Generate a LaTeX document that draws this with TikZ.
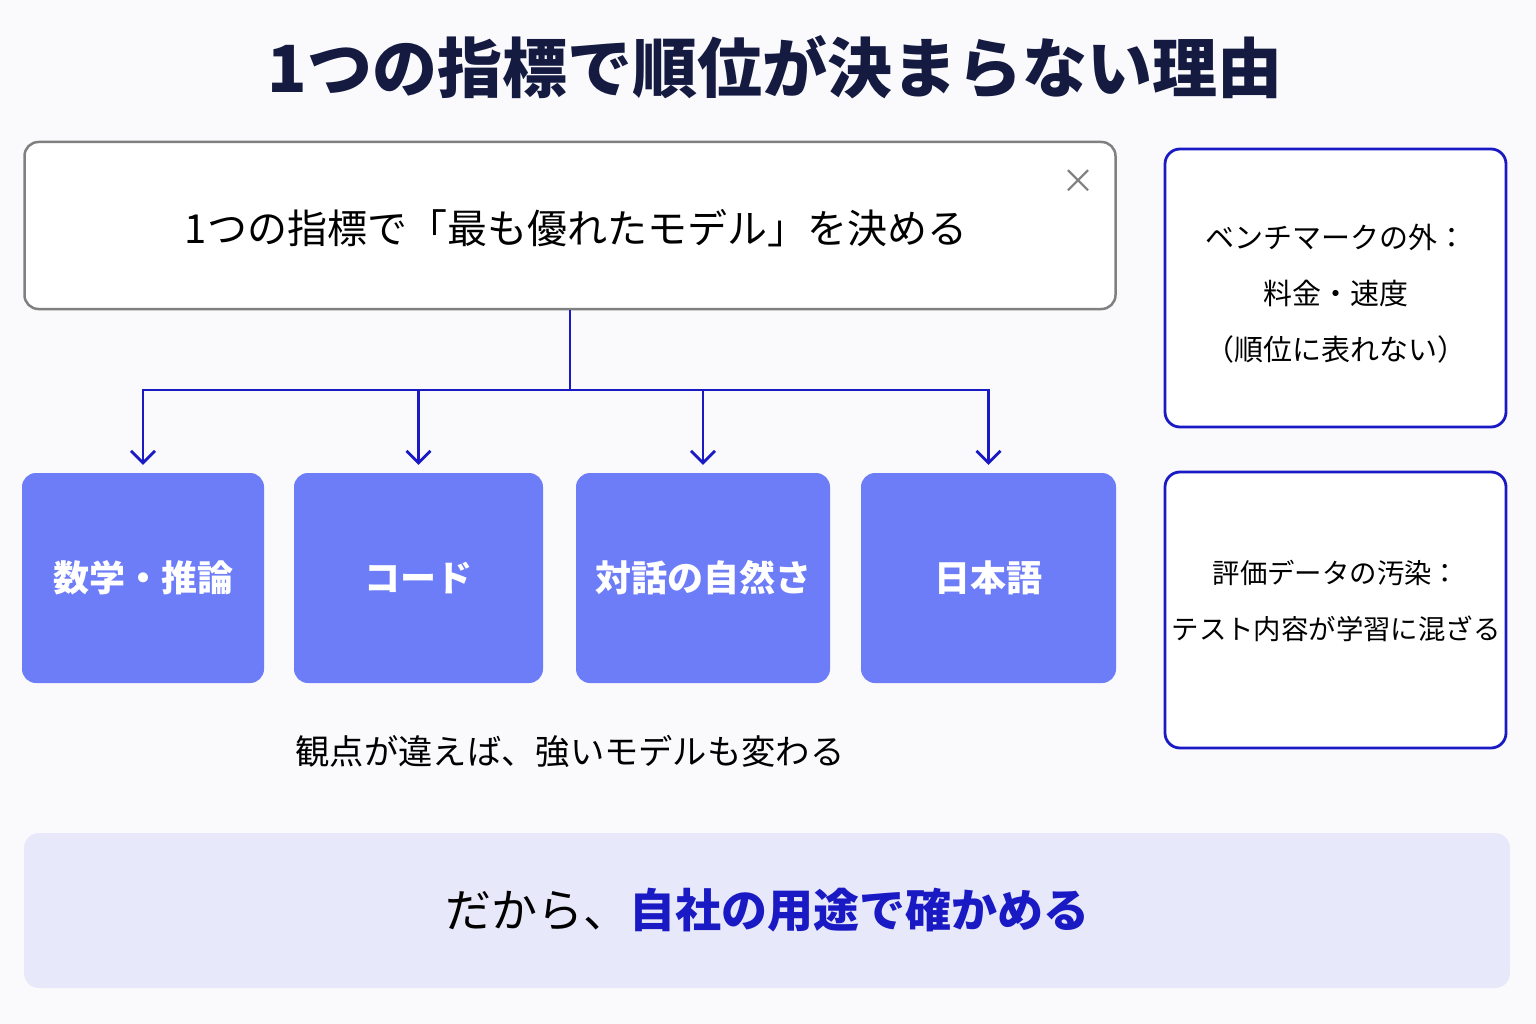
\documentclass[tikz,border=0pt]{standalone}
\usepackage{fontspec}
\setmainfont{Noto Sans CJK JP}
\usetikzlibrary{arrows.meta}
\definecolor{bgc}{HTML}{FAFAFD}
\definecolor{navy}{HTML}{141A40}
\definecolor{linkblue}{HTML}{1A1AC4}
\definecolor{boxblue}{HTML}{6D7DF8}
\definecolor{bandc}{HTML}{E8E8FB}
\definecolor{graybd}{HTML}{808080}
\tikzset{
  topbox/.style={draw=graybd, line width=2.5pt, fill=white, rounded corners=14pt, minimum width=1091pt, minimum height=167pt, font=\fontsize{40}{48}\selectfont, text=black},
  catbox/.style={fill=boxblue, rounded corners=14pt, minimum height=210pt, font=\bfseries\fontsize{36}{44}\selectfont, text=white},
  sidebox/.style={draw=linkblue, line width=2.8pt, fill=white, rounded corners=15pt, minimum width=341pt},
  sidetext/.style={align=center, inner sep=0pt, text=black},
  conn/.style={draw=linkblue, line width=2.8pt},
  arr/.style={conn, -{Straight Barb[length=12pt,width=24pt,line width=2.8pt]}, shorten >=8pt},
}
\begin{document}
\begin{tikzpicture}[x=1pt,y=-1pt]
\useasboundingbox[fill=bgc] (0,0) rectangle (1536,1024);
\node[font=\bfseries\fontsize{65}{78}\selectfont, text=navy] (title) at (775,67) {1つの指標で順位が決まらない理由};
\node[topbox] (top) at (570,225.5) {};
\node[font=\fontsize{40}{48}\selectfont, text=black] (toptext) at (576,228) {1つの指標で「最も優れたモデル」を決める};
\node[text=graybd, font=\fontsize{34}{34}\selectfont] (x) at (1078,182) {×};
\node[catbox, minimum width=242pt] (b1) at (143,578) {数学・推論};
\node[catbox, minimum width=249pt] (b2) at (418.5,578) {コード};
\node[catbox, minimum width=254pt] (b3) at (703,578) {対話の自然さ};
\node[catbox, minimum width=255pt] (b4) at (988.5,578) {日本語};
\coordinate (junc) at (570,390);
\draw[conn] (top.south) -- (junc);
\draw[arr] (junc) -| (b1.north);
\draw[arr] (junc) -| (b2.north);
\draw[arr] (junc) -| (b3.north);
\draw[arr] (junc) -| (b4.north);
\node[font=\fontsize{34.3}{42}\selectfont, text=black] (cap) at (570,751) {観点が違えば、強いモデルも変わる};
\node[sidebox, minimum height=278pt] (s1) at (1335.5,288) {};
\node[sidetext, font=\fontsize{29}{56}\selectfont] (s1t) at (1336,294) {ベンチマークの外：\\料金・速度\\（順位に表れない）};
\node[sidebox, minimum height=276pt] (s2) at (1335.5,610) {};
\node[sidetext, font=\fontsize{27.4}{56}\selectfont] (s2t) at (1336,601) {評価データの汚染：\\テスト内容が学習に混ざる};
\node[fill=bandc, rounded corners=15pt, minimum width=1486pt, minimum height=155pt, font=\fontsize{46}{56}\selectfont] (band) at (767,910.5) {だから、{\bfseries\color{linkblue}自社の用途で確かめる}};
\end{tikzpicture}
\end{document}
